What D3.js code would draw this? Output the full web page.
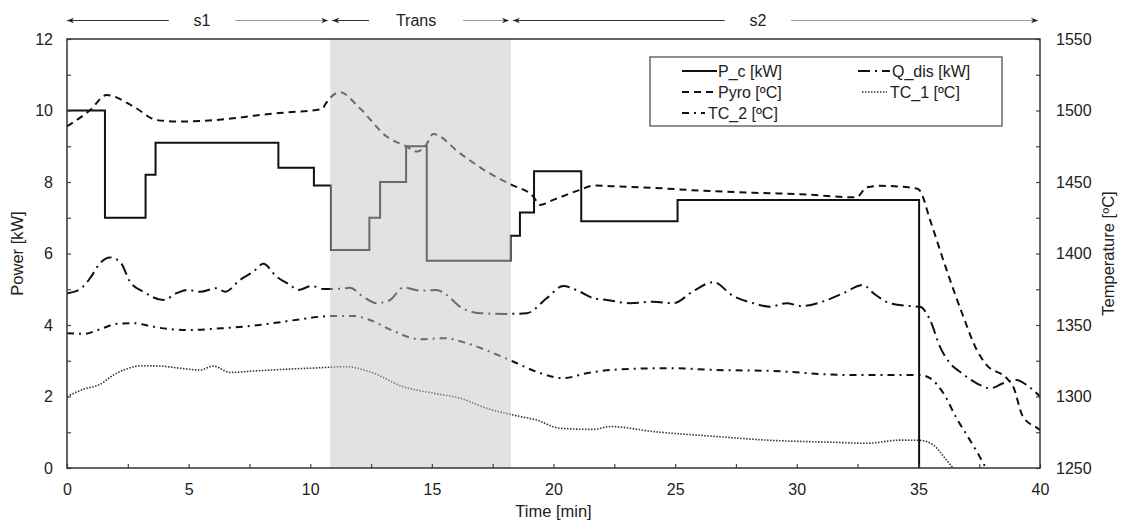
<!DOCTYPE html>
<html>
<head>
<meta charset="utf-8">
<script src="https://cdn.jsdelivr.net/npm/d3@7"></script>
<style>
  body { margin: 0; background: #fff; }
  text { font-family: "Liberation Sans", Arial, sans-serif; fill: #222; }
</style>
</head>
<body>
<svg id="chart" width="1124" height="523"></svg>
<script>
// P_c steps [time min, kW] - each value holds until the next time
var pcSteps = [[0,10],[1.56,7],[3.23,8.2],[3.64,9.1],[8.69,8.4],[10.15,7.9],[10.85,6.1],
  [12.43,7.0],[12.87,8.0],[13.94,9.0],[14.79,5.8],[18.24,6.5],[18.62,7.15],[19.2,8.3],
  [21.14,6.9],[25.1,7.5],[35.03,0]];

// Q_dis [kW]
var qdis = [[0,4.89],[0.53,5.0],[0.95,5.31],[1.36,5.73],[1.77,5.89],[2.18,5.77],[2.59,5.21],
  [3.14,4.93],[3.96,4.7],[4.51,4.89],[4.99,4.98],[5.47,4.93],[6.15,5.03],[6.5,4.93],[7.11,5.26],
  [7.66,5.49],[8.07,5.71],[8.62,5.35],[9.17,5.12],[9.51,4.98],[10.06,5.09],[10.54,5.01],
  [11.09,5.01],[11.63,5.04],[12.18,4.79],[12.73,4.61],[13.28,4.7],[13.83,5.05],[14.51,4.96],
  [15.2,4.98],[15.61,4.84],[16.16,4.51],[16.98,4.33],[18.08,4.31],[18.9,4.33],[19.72,4.75],
  [20.4,5.09],[21.09,4.93],[21.64,4.75],[22.19,4.7],[23.15,4.61],[24.1,4.65],[24.93,4.61],
  [25.75,4.95],[26.57,5.2],[27.39,4.81],[28.21,4.61],[28.9,4.51],[29.58,4.61],[30.2,4.53],
  [30.96,4.63],[31.91,4.89],[32.73,5.12],[33.15,4.89],[33.83,4.61],[34.66,4.53],[35.07,4.51],
  [35.48,4.14],[35.89,3.39],[36.3,2.93],[36.71,2.69],[37.4,2.37],[37.95,2.23],[38.49,2.37],
  [39.04,2.46],[39.45,2.32],[40,2.0]];

// Pyro [ºC]
var pyro = [[0,1488.8],[0.95,1500.3],[1.63,1510.8],[2.73,1502.8],[3.69,1493.3],[4.64,1492.3],
  [6.83,1494.5],[7.66,1496.3],[8.9,1498.5],[10.5,1501],[10.6,1503.8],[11.22,1512.8],[12.04,1501.5],
  [13.14,1481.8],[13.96,1474.8],[14.37,1471.3],[14.72,1474.8],[15.06,1483.5],[16.16,1470],
  [17.25,1457.3],[18.21,1448.5],[19.17,1439.8],[19.44,1434],[19.99,1437.5],[21.09,1444.5],
  [21.64,1447.5],[22.73,1446.8],[23.97,1446],[26.02,1444],[28.21,1442.5],[30.13,1441.5],
  [32.46,1439.3],[32.87,1446.3],[33.42,1447.3],[34.93,1445.5],[35.07,1443.8],[35.48,1423.5],
  [36.16,1388.5],[36.85,1355.8],[37.4,1332.5],[37.81,1322],[38.63,1312.8],[38.9,1306.8],
  [39.3,1285.8],[39.9,1277.8],[40,1276.5]];

// TC_1 [ºC]
var tc1 = [[0,1300],[0.67,1305],[1.36,1308.5],[1.91,1315],[2.32,1318.5],[3.14,1321.5],[3.82,1321.3],
  [4.64,1319.8],[5.47,1318.5],[6.02,1321.3],[6.7,1316.8],[7.66,1317.8],[8.9,1319],[10.0,1319.8],
  [11.49,1320.8],[12.45,1317.3],[13.83,1306.8],[15.06,1302.3],[16.16,1298.8],[17.25,1291.8],
  [18.36,1287],[19.31,1283.5],[20.27,1277.8],[21.64,1277],[22.33,1279],[24.1,1275.5],[26.71,1272],
  [28.76,1269.5],[31.5,1268],[32.88,1267.3],[34.25,1269.5],[35.07,1269.3],[35.62,1266],
  [36.16,1255.5],[36.43,1250],[36.6,1247.5]];

// TC_2 [ºC]
var tc2 = [[0,1344.3],[0.67,1343.8],[1.36,1347],[2.04,1350.8],[2.73,1351.3],[3.41,1349.3],[4.1,1347.3],
  [5.05,1346.5],[6.15,1347.5],[7.25,1348.8],[8.48,1351.3],[9.58,1354],[10.4,1355.8],[11.09,1356.3],
  [11.77,1356.3],[12.45,1353.5],[13.42,1345.8],[14.51,1340],[15.47,1340.8],[16.43,1337.3],
  [17.53,1330.3],[18.36,1324.3],[19.31,1317.3],[20.4,1312.8],[21.36,1316.3],[22.73,1319],
  [24.79,1319.8],[26.71,1318.5],[28.76,1318],[32.19,1315],[34.66,1315],[35.07,1315],[35.48,1312.8],
  [36.03,1302.3],[36.57,1284.8],[37.12,1269.5],[37.67,1253.3],[37.85,1247.5]];

// phases along the top
var phaseNames = ["s1", "Trans", "s2"];
var phaseStart = [0, 10.82, 18.25];
var phaseEnd = [10.82, 18.25, 40];
var phaseLabelAt = [5.55, 14.35, 28.4];

var legendNames = ["P_c [kW]", "Q_dis [kW]", "Pyro [ºC]", "TC_1 [ºC]", "TC_2 [ºC]"];

var svg = d3.select("#chart");
var plot = {left: 67, right: 1040, top: 39, bottom: 468};

var x = d3.scaleLinear().domain([0, 40]).range([plot.left, plot.right]);
var yL = d3.scaleLinear().domain([0, 12]).range([plot.bottom, plot.top]);
var yR = d3.scaleLinear().domain([1250, 1550]).range([plot.bottom, plot.top]);

svg.append("clipPath").attr("id", "plotclip")
  .append("rect").attr("x", plot.left).attr("y", plot.top)
  .attr("width", plot.right - plot.left).attr("height", plot.bottom - plot.top);

var styles = {
  pc:   {dash: null,        width: 2,   color: "#111"},
  qdis: {dash: "12,5,2,5",  width: 2,   color: "#111"},
  pyro: {dash: "7,5",       width: 2,   color: "#111"},
  tc1:  {dash: "1.5,1.5",   width: 1.6, color: "#333"},
  tc2:  {dash: "7,5,2,5",   width: 2,   color: "#111"}
};

var lines = svg.append("g").attr("clip-path", "url(#plotclip)");

function drawSeries(data, yScale, st, curve) {
  var fn = d3.line()
    .x(function(d) { return x(d[0]); })
    .y(function(d) { return yScale(d[1]); })
    .curve(curve);
  lines.append("path")
    .attr("d", fn(data))
    .attr("fill", "none")
    .attr("stroke", st.color)
    .attr("stroke-width", st.width)
    .attr("stroke-dasharray", st.dash);
}

drawSeries(tc1, yR, styles.tc1, d3.curveMonotoneX);
drawSeries(tc2, yR, styles.tc2, d3.curveMonotoneX);
drawSeries(qdis, yL, styles.qdis, d3.curveMonotoneX);
drawSeries(pyro, yR, styles.pyro, d3.curveMonotoneX);
drawSeries(pcSteps, yL, styles.pc, d3.curveStepAfter);

// transition shading, laid over the lines
svg.append("rect")
  .attr("x", x(phaseStart[1])).attr("y", plot.top)
  .attr("width", x(phaseEnd[1]) - x(phaseStart[1])).attr("height", plot.bottom - plot.top)
  .attr("fill", "#c6c6c6").attr("opacity", 0.5);

// axes
var gl = svg.append("g").attr("transform", "translate(" + plot.left + ",0)")
  .call(d3.axisLeft(yL).tickValues(d3.range(0, 13, 1)).tickSize(-4).tickPadding(14)
    .tickFormat(function(d) { return d % 2 === 0 ? d : ""; }));
var gr = svg.append("g").attr("transform", "translate(" + plot.right + ",0)")
  .call(d3.axisRight(yR).tickValues(d3.range(1250, 1551, 25)).tickSize(-4).tickPadding(16)
    .tickFormat(function(d) { return d % 50 === 0 ? d : ""; }));
var gb = svg.append("g").attr("transform", "translate(0," + plot.bottom + ")")
  .call(d3.axisBottom(x).tickValues(d3.range(0, 40.1, 2.5)).tickSize(-4).tickPadding(15.5)
    .tickFormat(function(d) { return d % 5 === 0 ? d : ""; }));

[gl, gr, gb].forEach(function(g) {
  g.select(".domain").remove();
  g.selectAll("line").attr("stroke", "#444").attr("stroke-width", 1.2);
  g.selectAll("text").style("font-size", "16px").style("font-family", "Liberation Sans, Arial, sans-serif").attr("fill", "#222");
});

svg.append("rect")
  .attr("x", plot.left).attr("y", plot.top)
  .attr("width", plot.right - plot.left).attr("height", plot.bottom - plot.top)
  .attr("fill", "none").attr("stroke", "#333").attr("stroke-width", 1.5);

svg.append("text").attr("x", (plot.left + plot.right) / 2).attr("y", 517)
  .attr("text-anchor", "middle").style("font-size", "16.5px").text("Time [min]");
svg.append("text").attr("transform", "translate(23," + (plot.top + plot.bottom) / 2 + ") rotate(-90)")
  .attr("text-anchor", "middle").style("font-size", "16.5px").text("Power [kW]");
svg.append("text").attr("transform", "translate(1114," + (plot.top + plot.bottom) / 2 + ") rotate(-90)")
  .attr("text-anchor", "middle").style("font-size", "16.5px").text("Temperature [ºC]");

// top phase arrows
var defs = svg.append("defs");
defs.append("marker").attr("id", "arrowR").attr("viewBox", "0 0 10 10")
  .attr("refX", 10).attr("refY", 5).attr("markerWidth", 7).attr("markerHeight", 7)
  .attr("markerUnits", "userSpaceOnUse").attr("orient", "auto")
  .append("path").attr("d", "M0,1 L10,5 L0,9 L3,5 Z").attr("fill", "#222");
var arrowY = 20.5;
for (let i = 0; i < phaseNames.length; i++) {
  var xs = x(phaseStart[i]) + (i === 0 ? 0 : 2);
  var xe = x(phaseEnd[i]) - 2;
  var xm = x(phaseLabelAt[i]);
  var tw = phaseNames[i].length * 4.6 + 24;
  svg.append("line").attr("x1", xm - tw).attr("y1", arrowY).attr("x2", xs).attr("y2", arrowY)
    .attr("stroke", "#333").attr("stroke-width", 1).attr("marker-end", "url(#arrowR)");
  svg.append("line").attr("x1", xm + tw).attr("y1", arrowY).attr("x2", xe).attr("y2", arrowY)
    .attr("stroke", "#999").attr("stroke-width", 1).attr("marker-end", "url(#arrowR)");
  svg.append("text").attr("x", xm).attr("y", arrowY + 5.5)
    .attr("text-anchor", "middle").style("font-size", "16px").text(phaseNames[i]);
}

// legend
var lg = svg.append("g");
lg.append("rect").attr("x", 650).attr("y", 57).attr("width", 352).attr("height", 69)
  .attr("fill", "#fff").attr("stroke", "#444").attr("stroke-width", 1.2);
var legendStyle = [styles.pc, styles.qdis, styles.pyro, styles.tc1, styles.tc2];
var legendPos = [[682, 717, 71], [858, 890, 71], [682, 717, 92], [862, 887, 92], [682, 705, 113]];
var legendTextX = [718, 892, 718, 890, 708];
legendNames.forEach(function(name, i) {
  var p = legendPos[i], st = legendStyle[i];
  lg.append("line").attr("x1", p[0]).attr("x2", p[1]).attr("y1", p[2]).attr("y2", p[2])
    .attr("stroke", st.color).attr("stroke-width", st.width).attr("stroke-dasharray", st.dash);
  lg.append("text").attr("x", legendTextX[i]).attr("y", p[2] + 5.5)
    .style("font-size", "16px").text(name);
});
</script>
</body>
</html>
